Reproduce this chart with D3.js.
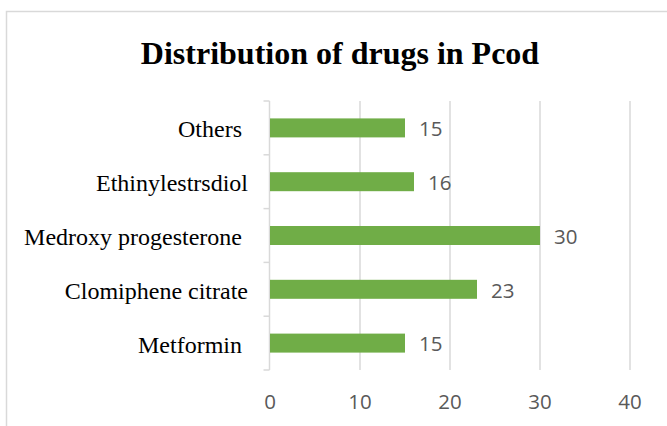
<!DOCTYPE html>
<html>
<head>
<meta charset="utf-8">
<script src="https://cdn.jsdelivr.net/npm/d3@7/dist/d3.min.js"></script>
<style>
  html, body { margin: 0; padding: 0; background: #fff; }
  svg { display: block; }
  text { white-space: pre; }
</style>
</head>
<body>
<script>
// Drug usage counts, listed top to bottom as shown on the chart
const categories = ["Others ", "Ethinylestrsdiol", "Medroxy progesterone ", "Clomiphene citrate", "Metformin "];
const values = [15, 16, 30, 23, 15];
const tickValues = [0, 10, 20, 30, 40];
const chartTitle = "Distribution of drugs in Pcod";

const W = 667, H = 426;
const svg = d3.select("body").append("svg")
  .attr("width", W).attr("height", H);

// Chart area outline
svg.append("rect")
  .attr("x", 6.5).attr("y", 11.5)
  .attr("width", 760).attr("height", 500)
  .attr("fill", "#fff")
  .attr("stroke", "#d9d9d9").attr("stroke-width", 1.5);

svg.append("text")
  .attr("x", 340).attr("y", 64)
  .attr("text-anchor", "middle")
  .attr("font-family", "'Liberation Serif', 'Times New Roman', serif")
  .attr("font-weight", "bold")
  .attr("font-size", 32)
  .attr("fill", "#000")
  .text(chartTitle);

const x = d3.scaleLinear().domain([0, 40]).range([270, 630]);
const y = d3.scaleBand().domain(categories).range([101, 370])
  .paddingInner(0.647).paddingOuter(0.3235);

// Vertical gridlines
svg.append("g").selectAll("line")
  .data(tickValues.filter(d => d > 0))
  .join("line")
  .attr("x1", d => x(d)).attr("x2", d => x(d))
  .attr("y1", 101).attr("y2", 370)
  .attr("stroke", "#d9d9d9").attr("stroke-width", 1.5);

// Category axis with tick marks between categories
const step = y.step();
const axisX = x(0) - 0.5;
const ga = svg.append("g");
ga.append("line")
  .attr("x1", axisX).attr("x2", axisX)
  .attr("y1", 101).attr("y2", 370)
  .attr("stroke", "#d9d9d9").attr("stroke-width", 1.5);
ga.selectAll("line.tick")
  .data(d3.range(categories.length + 1))
  .join("line").attr("class", "tick")
  .attr("x1", axisX - 6).attr("x2", axisX)
  .attr("y1", i => 101 + i * step).attr("y2", i => 101 + i * step)
  .attr("stroke", "#d9d9d9").attr("stroke-width", 1.5);

// Category labels
svg.append("g").selectAll("text")
  .data(categories)
  .join("text")
  .attr("x", 248)
  .attr("y", d => y(d) + y.bandwidth() / 2 + 1)
  .attr("dy", "0.35em")
  .attr("text-anchor", "end")
  .attr("font-family", "'Liberation Serif', 'Times New Roman', serif")
  .attr("font-size", 24)
  .attr("fill", "#000")
  .text(d => d);

// Bars
svg.append("g").selectAll("rect")
  .data(values)
  .join("rect")
  .attr("x", x(0))
  .attr("y", (d, i) => y(categories[i]))
  .attr("width", d => x(d) - x(0))
  .attr("height", y.bandwidth())
  .attr("fill", "#70ad47");

// Value labels
svg.append("g").selectAll("text")
  .data(values)
  .join("text")
  .attr("x", d => x(d) + 14)
  .attr("y", (d, i) => y(categories[i]) + y.bandwidth() / 2 + 1)
  .attr("dy", "0.36em")
  .attr("font-family", "'Open Sans', sans-serif")
  .attr("font-size", 20.5)
  .attr("fill", "#595959")
  .text(d => d);

// Value axis tick labels
svg.append("g").selectAll("text")
  .data(tickValues)
  .join("text")
  .attr("x", d => x(d))
  .attr("y", 402)
  .attr("dy", "0.36em")
  .attr("text-anchor", "middle")
  .attr("font-family", "'Open Sans', sans-serif")
  .attr("font-size", 20.5)
  .attr("fill", "#595959")
  .text(d => d);
</script>
</body>
</html>
